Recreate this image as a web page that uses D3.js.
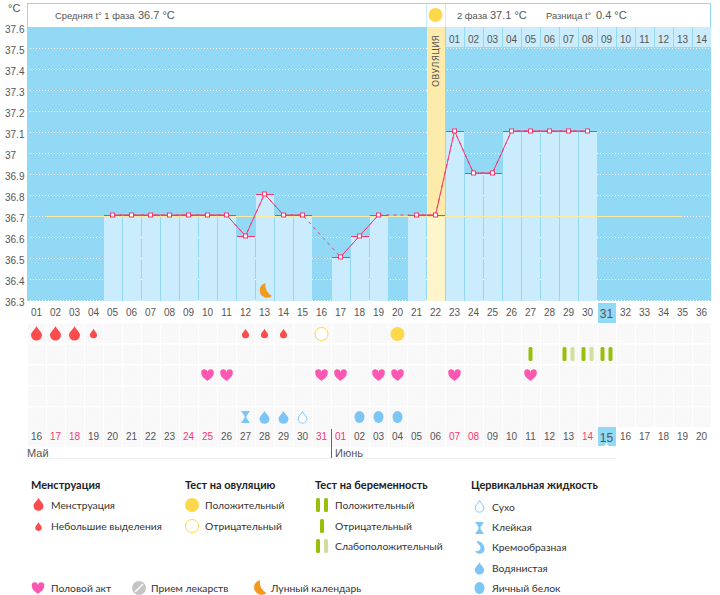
<!DOCTYPE html>
<html>
<head>
<meta charset="utf-8">
<script src="https://cdn.jsdelivr.net/npm/d3@7"></script>
<style>
html, body { margin: 0; padding: 0; background: #fff; }
svg { display: block; }
text { font-family: "Liberation Sans", sans-serif; font-size: 10px; fill: #555; }
.legend text { font-family: "Lato", sans-serif; font-size: 10.3px; fill: #333; }
.legend text.head { font-weight: bold; font-size: 11px; fill: #222; }
.axis path, .axis line { display: none; }
</style>
</head>
<body>
<svg id="chart" width="720" height="595"></svg>
<script>
// temperature by cycle day, null = not measured
var days = d3.range(1, 37);
var temps = [null, null, null, null, 36.7, 36.7, 36.7, 36.7, 36.7, 36.7, 36.7, 36.6, 36.8, 36.7, 36.7, null, 36.5, 36.6,
    36.7, null, 36.7, 36.7, 37.1, 36.9, 36.9, 37.1, 37.1, 37.1, 37.1, 37.1, null, null, null, null, null, null];
var tempTicks = [37.6, 37.5, 37.4, 37.3, 37.2, 37.1, 37, 36.9, 36.8, 36.7, 36.6, 36.5, 36.4, 36.3];
var coverLine = 36.7;
var coverDays = [2, 35];
var ovulationDay = 22;
var todayDay = 31;

var phaseLabels = ['01', '02', '03', '04', '05', '06', '07', '08', '09', '10', '11', '12', '13', '14'];
var dateLabels = ['16', '17', '18', '19', '20', '21', '22', '23', '24', '25', '26', '27', '28', '29', '30', '31',
    '01', '02', '03', '04', '05', '06', '07', '08', '09', '10', '11', '12', '13', '14', '15', '16', '17', '18', '19', '20'];
var weekendDays = [2, 3, 9, 10, 16, 17, 23, 24, 30];

// event rows
var rows = ['period', 'pregnancy', 'sex', 'meds', 'fluid'];
var heavyDays = [1, 2, 3];
var lightDays = [4, 12, 13, 14];
var ovulationNegDays = [16];
var ovulationPosDays = [20];
var pregNegDays = [27];
var pregWeakDays = [29, 30];
var pregPosDays = [31];
var sexDays = [10, 11, 16, 17, 19, 20, 23, 27];
var stickyDays = [12];
var wateryDays = [13, 14];
var dryDays = [15];
var eggDays = [18, 19, 20];
var moonDays = [13];

var legendPeriod = ['Менструация', 'Небольшие выделения'];
var legendOvulation = ['Положительный', 'Отрицательный'];
var legendPregnancy = ['Положительный', 'Отрицательный', 'Слабоположительный'];
var legendFluid = ['Сухо', 'Клейкая', 'Кремообразная', 'Водянистая', 'Яичный белок'];

var BLUE = '#92d9f6', PALE = '#caecfd', RED = '#f7386f', GREEN = '#98bf0a', LIME = '#d0e09c';
var DROP_RED = '#fb4b4d', DROP_BLUE = '#7cc5f4', YELLOW = '#fdd84a', PINK = '#fd58b1', ORANGE = '#f39a1e';

var DROP = 'M0,-8C1,-5 5.5,-2 5.5,1A5.5,5.5 0 0 1-5.5,1C-5.5,-2-1,-5 0,-8Z';
var HEART = 'M0,6C-3,3.5-6.2,1.5-6.2,-2A3.1,3.1 0 0 1 0,-3.2A3.1,3.1 0 0 1 6.2,-2C6.2,1.5 3,3.5 0,6Z';
var GLASS = 'M-4.5,-6H4.5L1,-1V1L4.5,6H-4.5L-1,1V-1Z';
var MOON = 'M1,-8A7.5,7.5 0 1 0 7.5,5A12,12 0 0 1 1,-8Z';
var CREAM = 'M-3,-7C2,-7 5,-3 5,1A5,5 0 0 1-4.5,3C-2,4 1,2 1,0C1,-3-2,-4-3,-7Z';

var svg = d3.select('#chart');

var x = d3.scaleBand().domain(days).range([27, 711]);
var y = d3.scaleLinear().domain([36.3, 37.6]).range([300, 27]);
var rowY = d3.scaleBand().domain(rows).range([323, 428]);

function cx(d) { return x(d) + x.step() / 2; }
function rowMid(r) { return rowY(r) + 10; }

var defs = svg.append('defs');
var hatch = defs.append('pattern').attr('id', 'hatch').attr('width', 3).attr('height', 3)
    .attr('patternUnits', 'userSpaceOnUse');
hatch.append('rect').attr('width', 3).attr('height', 3).attr('fill', '#fafafb');
hatch.append('path').attr('d', 'M0,3L3,0').attr('stroke', '#f5f5f7').attr('stroke-width', 1);

// plot background
svg.append('rect').attr('x', 27).attr('y', 27).attr('width', 684).attr('height', 274).attr('fill', BLUE);

// header box
svg.append('rect').attr('x', 27.5).attr('y', 3.5).attr('width', 683).attr('height', 24)
    .attr('fill', '#fff').attr('stroke', BLUE);
svg.selectAll('.hdr-sep').data([ovulationDay, ovulationDay + 1]).enter().append('line')
    .attr('x1', function (d) { return x(d) + 0.5; })
    .attr('x2', function (d) { return x(d) + 0.5; })
    .attr('y1', 4).attr('y2', 27).attr('stroke', PALE);
svg.append('circle').attr('cx', cx(ovulationDay)).attr('cy', 15).attr('r', 7).attr('fill', YELLOW);

// gridlines
svg.append('g').selectAll('line').data(tempTicks.slice(1)).enter().append('line')
    .attr('x1', 30).attr('x2', 711)
    .attr('y1', function (d) { return y(d) + 0.5; })
    .attr('y2', function (d) { return y(d) + 0.5; })
    .attr('stroke', '#fff').attr('stroke-dasharray', '1 2');

// ovulation column
svg.append('rect').attr('x', x(ovulationDay) + 1).attr('y', 27).attr('width', 18).attr('height', y(coverLine) - 27).attr('fill', '#fcebaa');
svg.append('rect').attr('x', x(ovulationDay) + 1).attr('y', y(coverLine)).attr('width', 18).attr('height', 301 - y(coverLine)).attr('fill', '#fef5cb');
svg.append('text').attr('transform', 'translate(' + (cx(ovulationDay) + 3.5) + ',61) rotate(-90)')
    .attr('text-anchor', 'middle').style('font-family', 'DejaVu Sans').style('font-size', '9px').style('fill', '#555').text('ОВУЛЯЦИЯ');

// phase 2 day row
svg.append('g').selectAll('rect').data(phaseLabels).enter().append('rect')
    .attr('x', function (d, i) { return x(ovulationDay + 1 + i) + 1; })
    .attr('y', 27).attr('width', 18).attr('height', 20).attr('fill', PALE);
svg.append('g').selectAll('text').data(phaseLabels).enter().append('text')
    .attr('x', function (d, i) { return cx(ovulationDay + 1 + i); })
    .attr('y', 43).attr('text-anchor', 'middle').text(function (d) { return d; });

// bars
var measured = days.map(function (d, i) { return { day: d, temp: temps[i] }; });
var known = measured.filter(function (d) { return d.temp !== null; });
svg.append('g').selectAll('rect').data(known.filter(function (d) { return d.day !== ovulationDay; })).enter().append('rect')
    .attr('x', function (d) { return x(d.day) + 1; })
    .attr('y', function (d) { return y(d.temp); })
    .attr('width', 18)
    .attr('height', function (d) { return 301 - y(d.temp); })
    .attr('fill', PALE);

// cover line
svg.append('line').attr('x1', x(coverDays[0])).attr('x2', cx(coverDays[1]))
    .attr('y1', y(coverLine) + 0.5).attr('y2', y(coverLine) + 0.5)
    .attr('stroke', '#fbeaa2').attr('stroke-width', 1.2);

// temperature line: dashed under solid to bridge missing days
var line = d3.line().x(function (d) { return cx(d.day); }).y(function (d) { return y(d.temp) - 1; });
svg.append('path').attr('d', line(known)).attr('fill', 'none').attr('stroke', RED).attr('stroke-dasharray', '3 4');
svg.append('path').datum(measured).attr('fill', 'none').attr('stroke', RED).attr('stroke-width', 1)
    .attr('d', line.defined(function (d) { return d.temp !== null; }));

svg.append('g').selectAll('line').data(known).enter().append('line')
    .attr('x1', function (d) { return x(d.day) + 1; })
    .attr('x2', function (d) { return x(d.day) + 19; })
    .attr('y1', function (d) { return y(d.temp) - 0.5; })
    .attr('y2', function (d) { return y(d.temp) - 0.5; })
    .attr('stroke', RED);
svg.append('g').selectAll('rect').data(known).enter().append('rect')
    .attr('x', function (d) { return cx(d.day) - 2; })
    .attr('y', function (d) { return y(d.temp) - 3; })
    .attr('width', 4).attr('height', 4)
    .attr('fill', '#fff').attr('stroke', RED);

// y axis
var yAxis = svg.append('g').attr('class', 'axis').attr('transform', 'translate(23,0)')
    .call(d3.axisLeft(y).tickValues(tempTicks).tickSize(0).tickPadding(0).tickFormat(function (d) { return String(d); }));
yAxis.selectAll('text').attr('text-anchor', 'start').attr('x', -18).attr('dy', '0.5em').style('font-size', '10px');
svg.append('text').attr('x', 8).attr('y', 12).style('font-size', '11px').text('°C');

// cycle day axis
svg.append('rect').attr('x', x(todayDay) + 1).attr('y', 303).attr('width', 18).attr('height', 20).attr('fill', BLUE);
var dayAxis = svg.append('g').attr('class', 'axis').attr('transform', 'translate(0,309)')
    .call(d3.axisBottom(x).tickSize(0).tickPadding(0).tickFormat(function (d) { return d < 10 ? '0' + d : String(d); }));
dayAxis.selectAll('text').attr('dy', '0.71em').style('font-size', function (d) { return d === todayDay ? '12px' : '10px'; });

// event grid
rows.forEach(function (r) {
    svg.append('g').selectAll('rect').data(days).enter().append('rect')
        .attr('x', function (d) { return x(d) + 1; })
        .attr('y', rowY(r) + 0.5)
        .attr('width', 18).attr('height', 19.5)
        .attr('fill', 'url(#hatch)');
});
svg.append('g').selectAll('rect').data(days.slice(0, todayDay - 1)).enter().append('rect')
    .attr('x', function (d) { return x(d) + 1; })
    .attr('y', 427).attr('width', 18).attr('height', 20).attr('fill', 'url(#hatch)');

// date axis
svg.append('rect').attr('x', x(todayDay) + 1).attr('y', 427).attr('width', 18).attr('height', 19).attr('fill', BLUE);
svg.append('path').attr('d', d3.symbol(d3.symbolTriangle, 12)()).attr('fill', '#fff')
    .attr('transform', 'translate(' + cx(todayDay) + ',445.5)');
var dateAxis = svg.append('g').attr('class', 'axis').attr('transform', 'translate(0,433)')
    .call(d3.axisBottom(x).tickSize(0).tickPadding(0).tickFormat(function (d) { return dateLabels[d - 1]; }));
dateAxis.selectAll('text').attr('dy', '0.71em')
    .style('fill', function (d) { return weekendDays.indexOf(d) >= 0 ? '#f7386f' : '#555'; })
    .style('font-size', function (d) { return d === todayDay ? '12px' : '10px'; });

// month labels
svg.append('line').attr('x1', 27).attr('x2', x(todayDay) + 19).attr('y1', 458.5).attr('y2', 458.5).attr('stroke', '#eee');
svg.append('line').attr('x1', x(17) + 0.5).attr('x2', x(17) + 0.5).attr('y1', 429).attr('y2', 458).attr('stroke', '#666');
svg.append('text').attr('x', 27).attr('y', 457).style('font-size', '11px').text('Май');
svg.append('text').attr('x', 335).attr('y', 457).style('font-size', '11px').text('Июнь');

// icons
function icon(parent, d, px, py, fill, scale) {
    return parent.append('path').attr('d', d).attr('fill', fill)
        .attr('transform', 'translate(' + px + ',' + py + ') scale(' + (scale || 1) + ')');
}
function dryDrop(parent, px, py) {
    return icon(parent, DROP, px, py, '#fff', 0.8).attr('stroke', DROP_BLUE).attr('stroke-width', 1.2);
}
function egg(parent, px, py) {
    return parent.append('ellipse').attr('cx', px).attr('cy', py).attr('rx', 5).attr('ry', 6).attr('fill', DROP_BLUE);
}
function ovulationMark(parent, px, py, positive) {
    return parent.append('circle').attr('cx', px).attr('cy', py)
        .attr('r', positive ? 7 : 6.5)
        .attr('fill', positive ? YELLOW : '#fff')
        .attr('stroke', positive ? 'none' : YELLOW);
}
function stick(parent, px, py, fill) {
    return parent.append('rect').attr('x', px - 2).attr('y', py - 7).attr('width', 4).attr('height', 14)
        .attr('rx', 1.5).attr('fill', fill);
}

var marks = svg.append('g');
heavyDays.forEach(function (d) { icon(marks, DROP, cx(d), rowMid('period') + 1, DROP_RED); });
lightDays.forEach(function (d) { icon(marks, DROP, cx(d), rowMid('period') + 1, DROP_RED, 0.65); });
ovulationNegDays.forEach(function (d) { ovulationMark(marks, cx(d), rowMid('period') + 1, false); });
ovulationPosDays.forEach(function (d) { ovulationMark(marks, cx(d), rowMid('period') + 1, true); });
pregNegDays.forEach(function (d) { stick(marks, cx(d), rowMid('pregnancy'), GREEN); });
pregWeakDays.forEach(function (d) {
    stick(marks, cx(d) - 4, rowMid('pregnancy'), GREEN);
    stick(marks, cx(d) + 4, rowMid('pregnancy'), LIME);
});
pregPosDays.forEach(function (d) {
    stick(marks, cx(d) - 4, rowMid('pregnancy'), GREEN);
    stick(marks, cx(d) + 4, rowMid('pregnancy'), GREEN);
});
sexDays.forEach(function (d) { icon(marks, HEART, cx(d), rowMid('sex'), PINK); });
stickyDays.forEach(function (d) { icon(marks, GLASS, cx(d), rowMid('fluid'), DROP_BLUE); });
wateryDays.forEach(function (d) { icon(marks, DROP, cx(d), rowMid('fluid') + 1, DROP_BLUE, 0.9); });
dryDays.forEach(function (d) { dryDrop(marks, cx(d), rowMid('fluid') + 1); });
eggDays.forEach(function (d) { egg(marks, cx(d), rowMid('fluid')); });
moonDays.forEach(function (d) { icon(marks, MOON, cx(d), 291, ORANGE); });

// header text
svg.append('text').attr('x', 55).attr('y', 19).style('font-size', '9.4px').text('Средняя t° 1 фаза');
svg.append('text').attr('x', 138).attr('y', 19).style('font-size', '11px').text('36.7 °C');
svg.append('text').attr('x', 457).attr('y', 19).style('font-size', '9.4px').text('2 фаза');
svg.append('text').attr('x', 490).attr('y', 19).style('font-size', '11px').text('37.1 °C');
svg.append('text').attr('x', 546).attr('y', 19).style('font-size', '9.4px').text('Разница t°');
svg.append('text').attr('x', 596).attr('y', 19).style('font-size', '11px').text('0.4 °C');

// legend
var lg = svg.append('g').attr('class', 'legend');
function label(px, py, str, cls) {
    lg.append('text').attr('x', px).attr('y', py).attr('class', cls || null).text(str);
}
label(31, 489, 'Менструация', 'head');
label(185, 489, 'Тест на овуляцию', 'head');
label(315, 489, 'Тест на беременность', 'head');
label(471, 489, 'Цервикальная жидкость', 'head');

legendPeriod.forEach(function (s, i) { label(51, 509 + i * 21, s); });
icon(lg, DROP, 38.5, 505, DROP_RED, 0.9);
icon(lg, DROP, 38.5, 527, DROP_RED, 0.6);

legendOvulation.forEach(function (s, i) { label(205, 509 + i * 21, s); });
ovulationMark(lg, 192, 505, true);
ovulationMark(lg, 192, 526, false);

legendPregnancy.forEach(function (s, i) { label(335, 509 + i * 20.5, s); });
stick(lg, 318, 505, GREEN); stick(lg, 326, 505, GREEN);
stick(lg, 322, 526, GREEN);
stick(lg, 318, 546, GREEN); stick(lg, 326, 546, LIME);

legendFluid.forEach(function (s, i) { label(492, 511 + i * 20.2, s); });
dryDrop(lg, 479.5, 507);
icon(lg, GLASS, 479.5, 528, DROP_BLUE);
icon(lg, CREAM, 479.5, 548, DROP_BLUE);
icon(lg, DROP, 479.5, 569, DROP_BLUE, 0.85);
lg.append('ellipse').attr('cx', 479.5).attr('cy', 588).attr('rx', 5).attr('ry', 6).attr('fill', DROP_BLUE);

icon(lg, HEART, 38, 588, PINK);
label(51, 592, 'Половой акт');
lg.append('circle').attr('cx', 139).attr('cy', 588).attr('r', 7).attr('fill', '#c4c4c4');
lg.append('line').attr('x1', 135).attr('y1', 592).attr('x2', 143).attr('y2', 584).attr('stroke', '#fff').attr('stroke-width', 1.5);
label(151, 592, 'Прием лекарств');
icon(lg, MOON, 259, 588, ORANGE);
label(271, 592, 'Лунный календарь');
</script>
</body>
</html>
